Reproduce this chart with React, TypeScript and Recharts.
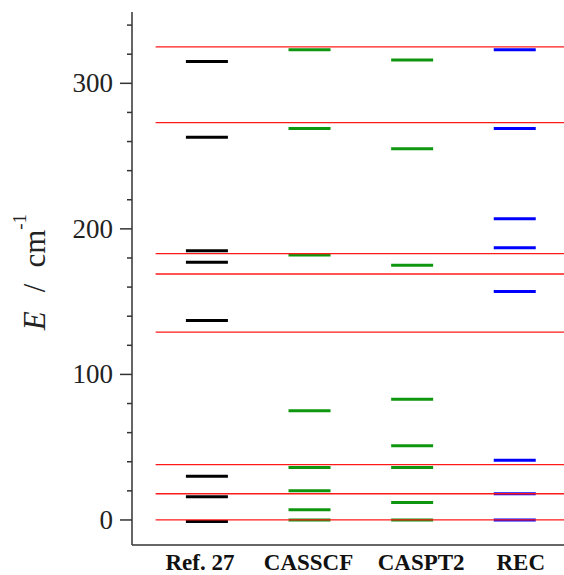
import { ScatterChart, Scatter, XAxis, YAxis } from 'recharts';

const methods = ['Ref. 27', 'CASSCF', 'CASPT2', 'REC'];

// energy levels in cm-1
const ref27Levels = [-1, 16, 30, 137, 177, 185, 263, 315];
const casscfLevels = [0, 7, 20, 36, 75, 182, 269, 323];
const caspt2Levels = [0, 12, 36, 51, 83, 175, 255, 316];
const recLevels = [0, 18, 41, 157, 187, 207, 269, 323];

// red horizontal guide levels
const exptLevels = [0, 18, 38, 129, 169, 183, 273, 325];

const yTicks = [0, 20, 40, 60, 80, 100, 120, 140, 160, 180, 200, 220, 240, 260, 280, 300, 320, 340];
const yLabelled = [0, 100, 200, 300];
const xTicks = [1, 2, 3, 4];

const X_MIN = 0.27;
const X_MAX = 4.48;
const GUIDE_START = 0.5;
const SERIF = '"Liberation Serif", "Times New Roman", serif';
const labelNudge = [-7, -1, 9, 6];

const toPoints = (levels: number[], x: number) => levels.map(y => ({ x, y }));

const levelShape = (color: string) => (props: any) => {
  const { cx, cy } = props;
  return <line x1={cx - 21} x2={cx + 21} y1={cy} y2={cy} stroke={color} strokeWidth={3} />;
};

const noMarker = () => <g />;

const EnergyTick = ({ x, y, payload }: any) => {
  const major = yLabelled.includes(payload.value);
  return (
    <g>
      <line x1={x - (major ? 12 : 5)} x2={x} y1={y} y2={y} stroke="#333" strokeWidth={1.5} />
      {major && (
        <text x={x - 19} y={y + 9} textAnchor="end" fontFamily={SERIF} fontSize={27} fill="#222">
          {payload.value}
        </text>
      )}
    </g>
  );
};

const MethodTick = ({ x, y, payload, index }: any) => (
  <text
    x={x + (labelNudge[index] ?? 0)}
    y={y + 25}
    textAnchor="middle"
    fontFamily={SERIF}
    fontWeight="bold"
    fontSize={23}
    fill="#111"
  >
    {methods[payload.value - 1]}
  </text>
);

const EnergyLabel = () => (
  <text
    x={45}
    y={272}
    transform="rotate(-90, 45, 272)"
    textAnchor="middle"
    fontFamily={SERIF}
    fontSize={31}
    fill="#222"
  >
    <tspan fontStyle="italic">E</tspan>
    <tspan dx={19}>/</tspan>
    <tspan dx={16}>cm</tspan>
    <tspan dy={-19} fontSize={19}>-1</tspan>
  </text>
);

export default function App() {
  return (
    <div style={{ position: 'absolute', left: 0, top: 0, width: 564, height: 575 }}>
      <ScatterChart width={564} height={575} margin={{ top: 12, right: 0, bottom: 0, left: 0 }}>
        <XAxis
          type="number"
          dataKey="x"
          domain={[X_MIN, X_MAX]}
          ticks={xTicks}
          allowDataOverflow
          height={30}
          tickSize={0}
          tickMargin={0}
          tick={<MethodTick />}
          axisLine={{ stroke: '#333', strokeWidth: 1.5 }}
        />
        <YAxis
          type="number"
          dataKey="y"
          domain={[-17.2, 349]}
          ticks={yTicks}
          allowDataOverflow
          interval={0}
          width={132}
          tickSize={0}
          tickMargin={0}
          tick={<EnergyTick />}
          axisLine={{ stroke: '#333', strokeWidth: 1.5 }}
          label={{ content: <EnergyLabel /> }}
        />
        <Scatter data={toPoints(ref27Levels, 1)} shape={levelShape('#000000')} isAnimationActive={false} />
        <Scatter data={toPoints(casscfLevels, 2)} shape={levelShape('#0f960f')} isAnimationActive={false} />
        <Scatter data={toPoints(caspt2Levels, 3)} shape={levelShape('#0f960f')} isAnimationActive={false} />
        <Scatter data={toPoints(recLevels, 4)} shape={levelShape('#0000ff')} isAnimationActive={false} />
        {exptLevels.map(v => (
          <Scatter
            key={v}
            data={[{ x: GUIDE_START, y: v }, { x: X_MAX, y: v }]}
            line={{ stroke: '#ff1a1a', strokeWidth: 1.3 }}
            shape={noMarker}
            isAnimationActive={false}
          />
        ))}
      </ScatterChart>
    </div>
  );
}
